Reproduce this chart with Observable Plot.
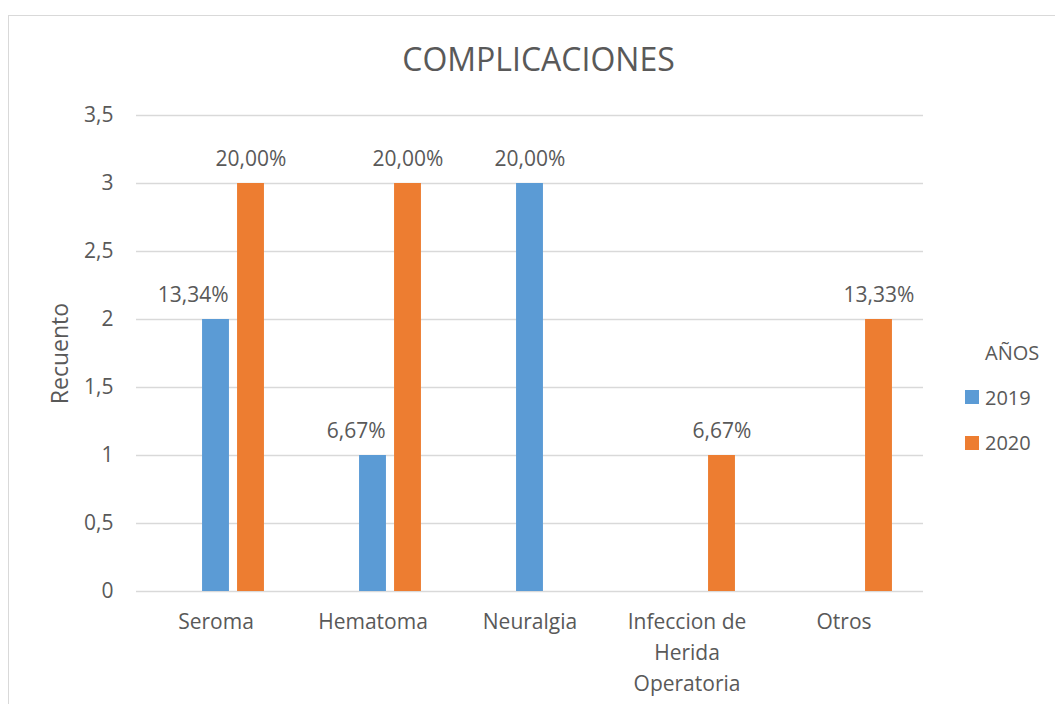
<!DOCTYPE html>
<html>
<head>
<meta charset="utf-8">
<script src="https://cdn.jsdelivr.net/npm/d3@7"></script>
<script src="https://cdn.jsdelivr.net/npm/@observablehq/plot@0.6"></script>
<style>
  html, body { margin: 0; padding: 0; background: #fff; overflow: hidden; }
  body { width: 1055px; height: 704px; position: relative; font-family: "Open Sans", sans-serif; color: #595959; }
  #frame { position: absolute; left: 8px; top: 15px; width: 1200px; height: 800px; border-left: 1.5px solid #d9d9d9; border-top: 1.5px solid #d9d9d9; }
  #chart { position: absolute; left: 0; top: 0; }
  #title { position: absolute; left: 0; width: 1077px; top: 43px; text-align: center; font-size: 32px; line-height: 32px; color: #595959; }
  #legend { position: absolute; left: 965px; top: 0; font-size: 20px; color: #595959; }
  #legend .head { position: absolute; left: 20px; top: 339px; white-space: nowrap; }
  #legend .item { position: absolute; left: 0; white-space: nowrap; display: flex; align-items: center; height: 26px; }
  #legend .sw { width: 14px; height: 14px; margin-right: 6px; }
</style>
</head>
<body>
<div id="frame"></div>
<div id="chart"></div>
<div id="title">COMPLICACIONES</div>
<div id="legend"></div>
<script>
// ---- data ----
const categories = ["Seroma", "Hematoma", "Neuralgia", "Infeccion de Herida Operatoria", "Otros"];
const categoryLabels = ["Seroma", "Hematoma", "Neuralgia", "Infeccion de\nHerida\nOperatoria", "Otros"];
const years = ["2019", "2020"];
const values2019 = [2, 1, 3, 0, 0];
const values2020 = [3, 3, 0, 1, 2];
const labels2019 = ["13,34%", "6,67%", "20,00%", "", ""];
const labels2020 = ["20,00%", "20,00%", "", "6,67%", "13,33%"];
const yTicks = [0, 0.5, 1, 1.5, 2, 2.5, 3, 3.5];
const colors = ["#5B9BD5", "#ED7D31"];

const rows2019 = categories.map((c, i) => ({category: c, year: "2019", value: values2019[i], label: labels2019[i], other: values2020[i]}));
const rows2020 = categories.map((c, i) => ({category: c, year: "2020", value: values2020[i], label: labels2020[i], other: values2019[i]}));

const W = 1055, H = 704;
const mL = 136, mR = 132, mT = 115, mB = 113;
const band = (W - mL - mR) / categories.length;
const barW = 27.3, step = 35;
const inset2019 = (band - barW) / 2;
const textColor = "#595959";
const fontSize = 21;

const plot = Plot.plot({
  width: W,
  height: H,
  marginLeft: mL,
  marginRight: mR,
  marginTop: mT,
  marginBottom: mB,
  style: {fontFamily: "'Open Sans', sans-serif", fontSize: fontSize + "px", color: textColor, background: "transparent"},
  x: {type: "band", domain: categories, padding: 0, label: null},
  y: {domain: [0, 3.5], label: null},
  marks: [
    Plot.gridY(yTicks, {stroke: "#d9d9d9", strokeOpacity: 1, strokeWidth: 1.5}),
    Plot.axisY({ticks: yTicks, tickSize: 0, tickPadding: 23, tickFormat: d => String(d).replace(".", ","), fill: textColor, fontSize: fontSize, label: null}),
    Plot.axisX({tickSize: 0, tickPadding: 16, tickFormat: d => categoryLabels[categories.indexOf(d)], fill: textColor, fontSize: fontSize, lineHeight: 1.46, label: null}),
    Plot.barY(rows2019.filter(d => d.value > 0), {x: "category", y: "value", fill: colors[0], insetLeft: inset2019, insetRight: inset2019}),
    Plot.barY(rows2020.filter(d => d.value > 0), {x: "category", y: "value", fill: colors[1], insetLeft: inset2019 + step, insetRight: inset2019 - step}),
    // value labels
    Plot.text(rows2019.filter(d => d.value > 0 && d.other > 0), {x: "category", y: "value", text: "label", textAnchor: "end", dx: barW / 2 - 1, dy: -24, fill: textColor, fontSize: fontSize}),
    Plot.text(rows2019.filter(d => d.value > 0 && d.other === 0), {x: "category", y: "value", text: "label", dy: -24, fill: textColor, fontSize: fontSize}),
    Plot.text(rows2020.filter(d => d.value > 0), {x: "category", y: "value", text: "label", dx: step, dy: -24, fill: textColor, fontSize: fontSize}),
    // y axis title
    Plot.text(["Recuento"], {frameAnchor: "left", textAnchor: "middle", rotate: -90, dx: -76, fill: textColor, fontSize: 23})
  ]
});
document.getElementById("chart").appendChild(plot);

// legend
const legend = document.getElementById("legend");
const head = document.createElement("div");
head.className = "head";
head.textContent = "AÑOS";
legend.appendChild(head);
years.forEach((y, i) => {
  const item = document.createElement("div");
  item.className = "item";
  item.style.top = (384 + i * 45.5) + "px";
  const sw = document.createElement("div");
  sw.className = "sw";
  sw.style.background = colors[i];
  const t = document.createElement("span");
  t.textContent = y;
  item.appendChild(sw);
  item.appendChild(t);
  legend.appendChild(item);
});
</script>
</body>
</html>
